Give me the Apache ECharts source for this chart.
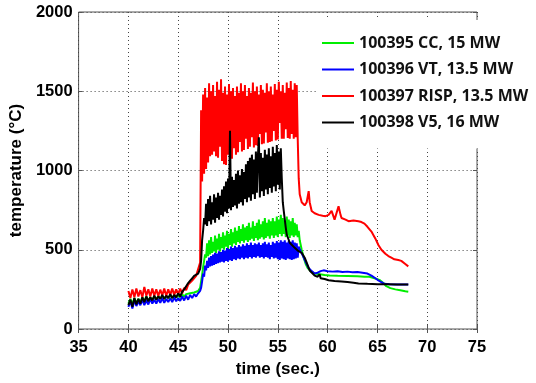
<!DOCTYPE html>
<html>
<head>
<meta charset="utf-8">
<script src="https://cdn.jsdelivr.net/npm/echarts@6/dist/echarts.min.js"></script>
<style>
html,body{margin:0;padding:0;background:#fff;}
#chart{width:536px;height:383px;}
</style>
</head>
<body>
<div id="chart"></div>
<script>
// ---- data (time in s, temperature in °C) ----
const seriesNames = ['100395 CC, 15 MW', '100396 VT, 13.5 MW', '100397 RISP, 13.5 MW', '100398 V5, 16 MW'];
const xTicks = [35, 40, 45, 50, 55, 60, 65, 70, 75];
const yTicks = [0, 500, 1000, 1500, 2000];

// early part sampled every 0.2 s from 40.0 s; band part every 0.1 s from 47.3 s
const earlyStart = 40.0, earlyStep = 0.2;
const bandStart = 47.3, bandStep = 0.1;

const greenEarly = [160,190,155,195,165,190,170,200,175,205,180,200,185,205,185,210,190,205,190,210,195,212,195,215,198,215,200,218,205,220,210,225,215,230,225,240,260];
const greenBand = [300,340,390,430,470,450,540,460,560,470,580,480,550,490,590,480,570,500,600,490,580,510,610,500,590,520,620,510,600,530,630,520,610,540,640,530,620,550,650,540,630,555,660,545,640,560,650,550,670,560,640,570,680,555,650,575,670,560,690,570,660,580,680,565,700,575,670,585,690,570,680,590,700,575,680,590,710,580,690,600,720,585,700,600,680,580,710,590,690,575,680,590,700,580,670,590,660,580,620];
const greenTail = [[57.2,560],[57.4,500],[57.6,450],[57.8,410],[58.0,385],[58.3,365],[58.7,350],[59.2,345],[59.7,340],[60.2,338],[61.0,336],[62.0,335],[63.0,333],[63.7,330],[64.2,330],[64.7,320],[65.2,310],[65.6,290],[65.9,270],[66.3,258],[66.8,250],[67.3,245],[67.8,238],[68.1,235]];

const blueEarly = [140,175,130,180,145,175,150,185,150,180,155,190,160,185,160,190,165,195,165,190,170,195,170,200,175,195,178,205,180,210,185,215,195,220,205,225,240];
const blueBand = [260,300,350,330,400,370,430,385,450,395,460,400,470,405,480,410,475,415,490,420,485,425,500,420,495,430,510,425,505,435,520,430,510,440,525,435,515,445,530,440,520,450,535,440,525,450,540,445,530,455,545,445,530,455,540,450,535,460,545,450,530,455,540,445,550,455,535,450,545,440,530,455,550,445,540,450,555,440,545,435,560,445,550,440,560,435,545,445,555,440,550,435,560,440,545,445,540,450,520];
const blueTail = [[57.3,490],[57.6,450],[57.9,410],[58.1,385],[58.4,365],[58.7,350],[59.0,355],[59.3,365],[59.6,370],[60.0,365],[60.5,362],[61.0,365],[61.5,360],[62.0,362],[62.5,358],[63.0,360],[63.5,355],[64.0,350],[64.4,337],[64.8,320],[65.1,306],[65.4,295],[65.7,285],[66.2,282],[66.8,280],[67.5,281],[68.1,280]];

const redEarly = [240,195,250,200,255,205,245,200,265,210,250,205,255,210,250,208,248,212,255,210,250,215,255,215,250,220,255,225,260,245,280,275,305,310,335,345,420];
const redBand = [1380,930,1480,980,1520,1010,1460,1050,1550,1090,1500,1100,1540,1120,1470,1090,1560,1080,1510,1150,1575,1060,1490,1040,1530,1035,1480,1100,1545,1050,1500,1075,1520,1140,1470,1100,1530,1115,1490,1180,1550,1120,1500,1130,1540,1200,1470,1135,1520,1150,1490,1210,1555,1145,1500,1160,1530,1155,1480,1230,1540,1165,1510,1170,1490,1240,1550,1175,1500,1180,1530,1185,1480,1250,1545,1190,1510,1195,1560,1300,1500,1200,1540,1200,1490,1260,1555,1205,1520,1200,1565,1230,1510,1200,1550,1210,1540,1200];
const redTail = [[57.1,950],[57.2,850],[57.4,800],[57.7,780],[57.9,800],[58.1,870],[58.2,800],[58.4,745],[58.7,730],[59.1,720],[59.5,715],[59.8,712],[60.1,720],[60.4,745],[60.7,690],[60.9,700],[61.1,775],[61.3,720],[61.4,700],[61.8,690],[62.1,680],[62.6,685],[63.1,680],[63.4,675],[63.7,665],[64.0,645],[64.4,615],[64.8,570],[65.1,530],[65.4,500],[65.8,475],[66.1,460],[66.4,450],[66.7,440],[67.1,435],[67.4,430],[67.8,410],[68.1,395]];

const blackEarly = [150,185,140,195,155,190,160,200,170,205,175,200,180,210,185,205,190,215,190,210,195,220,195,215,200,225,205,235,250,270,290,305,320,335,340,350,380];
const blackBand = [430,560,620,700,660,790,650,820,680,840,660,800,690,850,670,830,700,860,690,840,720,880,710,900,740,930,730,950,760,1250,750,960,770,940,780,980,760,1000,790,970,800,1010,780,990,820,1040,800,1060,830,1080,810,1100,850,1070,820,1120,860,1090,1210,830,1110,870,1080,840,1130,880,1100,850,1140,890,1090,860,1150,900,1110,870,1160,910,1120,880,1140,950];
const blackTail = [[55.5,800],[55.6,744],[55.8,640],[55.9,596],[56.2,544],[56.7,512],[57.0,495],[57.4,481],[57.7,450],[57.9,419],[58.2,369],[58.5,350],[58.7,337],[59.0,330],[59.2,345],[59.3,320],[59.4,325],[59.7,315],[60.1,308],[60.7,303],[61.4,300],[62.0,296],[62.6,292],[63.1,287],[64.0,285],[65.0,283],[66.0,282],[67.0,281],[68.1,280]];

const colors = ['#00ee00', '#0000ff', '#ff0000', '#000000'];

function sampled(start, step, vals) {
  return vals.map((v, i) => [Math.round((start + step * i) * 100) / 100, v]);
}
function build(early, band, tail) {
  return sampled(earlyStart, earlyStep, early).concat(sampled(bandStart, bandStep, band), tail);
}
const allData = [
  build(greenEarly, greenBand, greenTail),
  build(blueEarly, blueBand, blueTail),
  build(redEarly, redBand, redTail),
  build(blackEarly, blackBand, blackTail)
];

const labelFont = {fontFamily: 'Liberation Sans', fontWeight: 'bold', fontSize: 16.5, color: '#000', formatter: v => String(v)};
const dotted = {show: true, lineStyle: {color: '#444', width: 1, type: [1, 3]}};

const chart = echarts.init(document.getElementById('chart'), null, {renderer: 'canvas'});
chart.setOption({
  animation: false,
  backgroundColor: '#fff',
  grid: {left: 76, top: 12, right: 59, bottom: 51, show: true, borderColor: '#555', borderWidth: 1, backgroundColor: 'transparent'},
  legend: {
    data: seriesNames,
    orient: 'vertical',
    left: 318, top: 20,
    padding: [15, 8, 18, 4],
    backgroundColor: '#fff',
    itemWidth: 32, itemHeight: 14, itemGap: 10.5,
    icon: 'path://M0,6h32v2h-32z',
    textStyle: {fontFamily: 'Open Sans', fontWeight: 'bold', fontSize: 16, color: '#111'}
  },
  xAxis: [{
    type: 'value', min: xTicks[0], max: xTicks[xTicks.length - 1], interval: 5,
    axisLine: {show: false},
    axisTick: {show: true, inside: true, length: 4, lineStyle: {color: '#555'}},
    axisLabel: Object.assign({margin: 10}, labelFont),
    splitLine: dotted,
    name: 'time (sec.)', nameLocation: 'middle', nameGap: 32,
    nameTextStyle: {fontFamily: 'Liberation Sans', fontWeight: 'bold', fontSize: 17, color: '#000'}
  }, {
    type: 'value', position: 'top', min: xTicks[0], max: xTicks[xTicks.length - 1], interval: 5,
    axisLine: {show: false}, axisLabel: {show: false}, splitLine: {show: false},
    axisTick: {show: true, inside: true, length: 4, lineStyle: {color: '#555'}}
  }],
  yAxis: [{
    type: 'value', min: yTicks[0], max: yTicks[yTicks.length - 1], interval: 500,
    axisLine: {show: false},
    axisTick: {show: true, inside: true, length: 4, lineStyle: {color: '#555'}},
    axisLabel: Object.assign({margin: 6}, labelFont),
    splitLine: dotted,
    name: 'temperature (°C)', nameLocation: 'middle', nameGap: 47, nameRotate: 90,
    nameTextStyle: {fontFamily: 'Liberation Sans', fontWeight: 'bold', fontSize: 17, color: '#000'}
  }, {
    type: 'value', position: 'right', min: yTicks[0], max: yTicks[yTicks.length - 1], interval: 500,
    axisLine: {show: false}, axisLabel: {show: false}, splitLine: {show: false},
    axisTick: {show: true, inside: true, length: 4, lineStyle: {color: '#555'}}
  }],
  series: seriesNames.map((name, k) => ({
    name: name,
    type: 'line',
    xAxisIndex: 0, yAxisIndex: 0,
    data: allData[k],
    symbol: 'none',
    showSymbol: false,
    sampling: undefined,
    z: 2 + k,
    color: colors[k],
    lineStyle: {color: colors[k], width: 2},
    emphasis: {disabled: true}
  }))
});
</script>
</body>
</html>
